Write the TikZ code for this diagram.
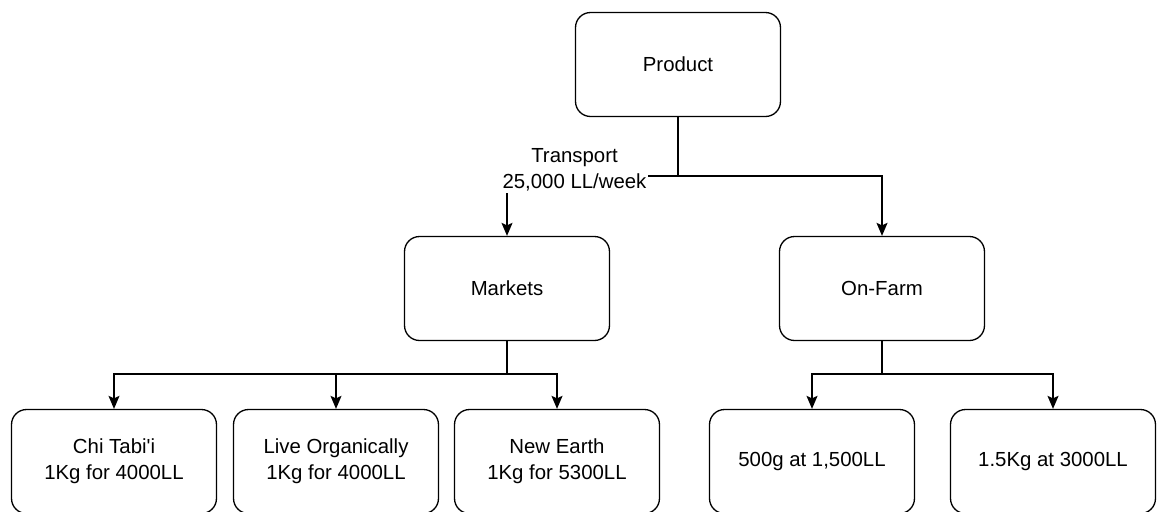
\documentclass[tikz,border=0pt]{standalone}
\usepackage{fontspec}
\setmainfont{Liberation Sans}
\usetikzlibrary{arrows.meta}

\tikzset{
  box/.style={draw, line width=0.75pt, rounded corners=0.3cm, minimum width=4.1cm,
    minimum height=2.08cm, inner sep=0pt, align=center},
  link/.style={line width=0.75pt, -{Stealth[length=0.26cm, width=0.22cm, inset=0.05cm]}}
}

\begin{document}
\begin{tikzpicture}[x=0.02cm, y=-0.02cm, font=\fontsize{11.6pt}{14.8pt}\selectfont]
            \useasboundingbox (0,0) rectangle (1157,511);

            % Nodes
            \node[box] (P) at (678,64.5) {Product};
            \node[box] (M) at (507,288.5) {Markets};
            \node[box] (F) at (882,288.5) {On-Farm};
            \node[box] (M1) at (114,461.5) {Chi Tabi\textquotesingle i\\1Kg for 4000LL};
            \node[box] (M2) at (336,461.5) {Live Organically\\1Kg for 4000LL};
            \node[box] (M3) at (557,461.5) {New Earth\\1Kg for 5300LL};
            \node[box] (F1) at (812,461.5) {500g at 1,500LL};
            \node[box] (F2) at (1053,461.5) {1.5Kg at 3000LL};

            % Junctions
            \coordinate (J0) at (678,176);
            \coordinate (J1) at (507,374);
            \coordinate (J2) at (882,374);

            % Lines
            \draw[link] (P) -- (J0) -| (M);
            \draw[link] (J0) -| (F);
            \draw[link] (M) -- (J1) -| (M1);
            \draw[link] (J1) -| (M2);
            \draw[link] (J1) -| (M3);
            \draw[link] (F) -- (J2) -| (F1);
            \draw[link] (J2) -| (F2);

            % Label
            \node[fill=white, inner sep=1pt, align=center] (T) at (574.5,170) {Transport\\25,000 LL/week};
        \end{tikzpicture}
\end{document}
